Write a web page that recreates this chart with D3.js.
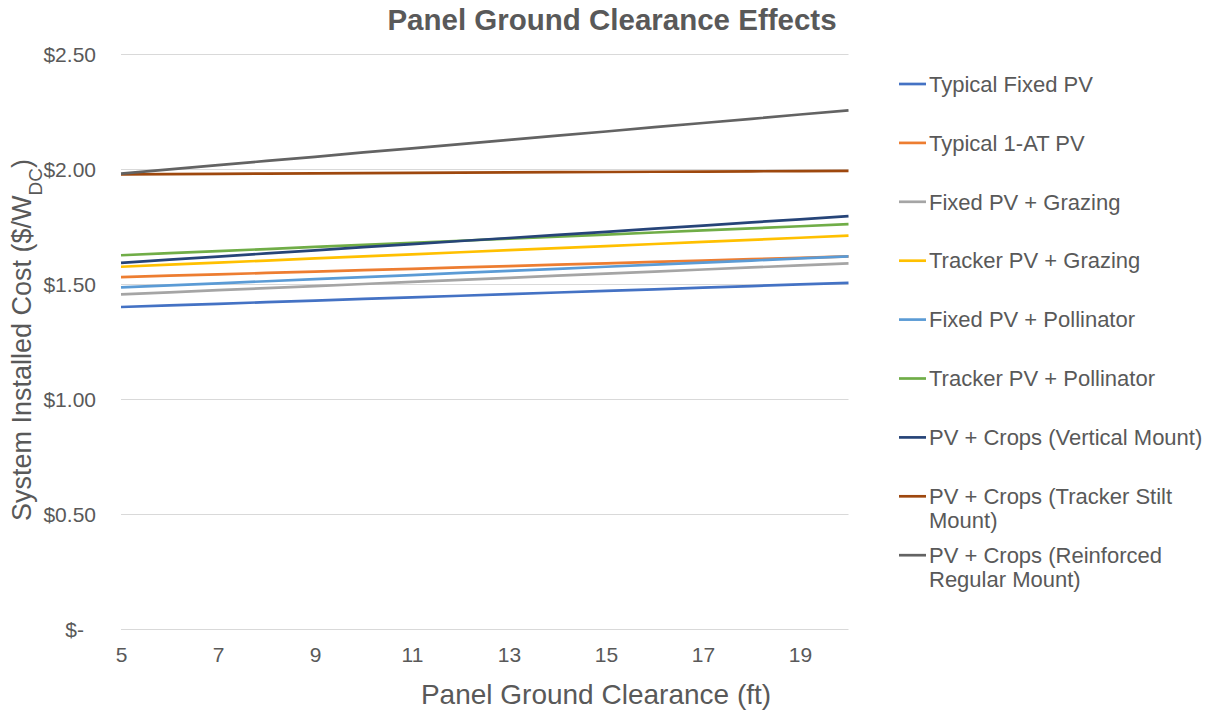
<!DOCTYPE html>
<html>
<head>
<meta charset="utf-8">
<script src="https://cdn.jsdelivr.net/npm/d3@7"></script>
<style>
  html, body { margin: 0; padding: 0; background: #fff; }
  svg { display: block; font-family: "Liberation Sans", Arial, sans-serif; }
</style>
</head>
<body>
<svg id="chart" width="1206" height="713"></svg>
<script>
// Ground clearance in feet (x axis)
const clearance = [5, 6, 7, 8, 9, 10, 11, 12, 13, 14, 15, 16, 17, 18, 19, 20];
const xTickLabels = [5, 7, 9, 11, 13, 15, 17, 19];
const yTickValues = [0, 0.5, 1.0, 1.5, 2.0, 2.5];

// Installed cost, $/W_DC, for each configuration
const typicalFixed = [1.400, 1.407, 1.414, 1.421, 1.428, 1.435, 1.442, 1.449, 1.456, 1.463, 1.470, 1.477, 1.484, 1.491, 1.498, 1.505];
const typical1AT = [1.530, 1.536, 1.542, 1.548, 1.554, 1.560, 1.566, 1.572, 1.578, 1.584, 1.590, 1.596, 1.602, 1.608, 1.614, 1.620];
const fixedGrazing = [1.455, 1.464, 1.473, 1.482, 1.491, 1.500, 1.509, 1.518, 1.527, 1.536, 1.545, 1.554, 1.563, 1.572, 1.581, 1.590];
const trackerGrazing = [1.575, 1.584, 1.593, 1.602, 1.611, 1.620, 1.629, 1.638, 1.647, 1.656, 1.665, 1.674, 1.683, 1.692, 1.701, 1.710];
const fixedPollinator = [1.485, 1.494, 1.503, 1.512, 1.521, 1.530, 1.539, 1.548, 1.557, 1.566, 1.575, 1.584, 1.593, 1.602, 1.611, 1.620];
const trackerPollinator = [1.625, 1.634, 1.643, 1.652, 1.661, 1.670, 1.679, 1.688, 1.697, 1.706, 1.715, 1.724, 1.733, 1.742, 1.751, 1.760];
const cropsVertical = [1.592, 1.606, 1.619, 1.633, 1.646, 1.660, 1.673, 1.687, 1.700, 1.714, 1.727, 1.741, 1.754, 1.768, 1.781, 1.795];
const cropsStilt = [1.977, 1.978, 1.979, 1.980, 1.981, 1.982, 1.983, 1.984, 1.985, 1.986, 1.987, 1.988, 1.989, 1.990, 1.991, 1.992];
const cropsReinforced = [1.980, 1.998, 2.017, 2.035, 2.053, 2.072, 2.090, 2.108, 2.127, 2.145, 2.163, 2.182, 2.200, 2.218, 2.237, 2.255];

// Legend entries, with the long names broken over two lines
const legendLines = [
  ["Typical Fixed PV"],
  ["Typical 1-AT PV"],
  ["Fixed PV + Grazing"],
  ["Tracker PV + Grazing"],
  ["Fixed PV + Pollinator"],
  ["Tracker PV + Pollinator"],
  ["PV + Crops (Vertical Mount)"],
  ["PV + Crops (Tracker Stilt", "Mount)"],
  ["PV + Crops (Reinforced", "Regular Mount)"]
];
const seriesValues = [typicalFixed, typical1AT, fixedGrazing, trackerGrazing,
  fixedPollinator, trackerPollinator, cropsVertical, cropsStilt, cropsReinforced];
const seriesColors = ["#4472C4", "#ED7D31", "#A5A5A5", "#FFC000", "#5B9BD5",
  "#70AD47", "#264478", "#9E480E", "#636363"];

const svg = d3.select("#chart");
const textColor = "#595959";
const fontFamily = "'Liberation Sans', Arial, sans-serif";

const x = d3.scaleLinear().domain([5, 20]).range([121, 848.5]);
const y = d3.scaleLinear().domain([0, 2.5]).range([629, 54]);

// Horizontal gridlines
svg.append("g")
  .selectAll("line")
  .data(yTickValues)
  .join("line")
  .attr("x1", x(5)).attr("x2", x(20))
  .attr("y1", d => Math.round(y(d)) + 0.5)
  .attr("y2", d => Math.round(y(d)) + 0.5)
  .attr("stroke", "#D9D9D9")
  .attr("stroke-width", 1);

// Y axis labels (accounting style: zero shown as "$-")
const yFmt = d => d === 0 ? "$-" : "$" + d.toFixed(2);
const yAxis = d3.axisLeft(y).tickValues(yTickValues).tickFormat(yFmt).tickSize(0).tickPadding(0);
const yg = svg.append("g").attr("transform", "translate(96,0)").call(yAxis);
yg.select(".domain").remove();
yg.selectAll("text")
  .attr("fill", textColor)
  .style("font-size", "21px")
  .style("font-family", fontFamily)
  .attr("dy", "0.35em");
yg.selectAll("text").filter(d => d === 0).attr("x", -12);

// X axis labels
const xAxis = d3.axisBottom(x).tickValues(xTickLabels).tickFormat(d3.format("d")).tickSize(0).tickPadding(0);
const xg = svg.append("g").attr("transform", "translate(0,655)").call(xAxis);
xg.select(".domain").remove();
xg.selectAll("text")
  .attr("fill", textColor)
  .style("font-size", "21px")
  .style("font-family", fontFamily)
  .attr("dy", "0.35em");

// Series lines
const line = d3.line()
  .x((d, i) => x(clearance[i]))
  .y(d => y(d));

svg.append("g")
  .selectAll("path")
  .data(seriesValues)
  .join("path")
  .attr("d", d => line(d))
  .attr("fill", "none")
  .attr("stroke", (d, i) => seriesColors[i])
  .attr("stroke-width", 2.7)
  .attr("stroke-linecap", "butt");

// Title
svg.append("text")
  .attr("x", 612).attr("y", 30)
  .attr("text-anchor", "middle")
  .attr("fill", textColor)
  .style("font-size", "29.5px")
  .style("font-weight", "bold")
  .text("Panel Ground Clearance Effects");

// Axis titles
svg.append("text")
  .attr("x", 596).attr("y", 704)
  .attr("text-anchor", "middle")
  .attr("fill", textColor)
  .style("font-size", "28px")
  .text("Panel Ground Clearance (ft)");

const yTitle = svg.append("text")
  .attr("transform", "translate(31,340) rotate(-90)")
  .attr("text-anchor", "middle")
  .attr("fill", textColor)
  .style("font-size", "27px");
yTitle.append("tspan").text("System Installed Cost ($/W");
yTitle.append("tspan").attr("baseline-shift", "sub").style("font-size", "19px").text("DC");
yTitle.append("tspan").text(")");

// Legend
const legend = svg.append("g");
const legendTop = 84, legendStep = 58.9;
legendLines.forEach((lines, i) => {
  const cy = legendTop + i * legendStep;
  legend.append("line")
    .attr("x1", 899).attr("x2", 926)
    .attr("y1", cy).attr("y2", cy)
    .attr("stroke", seriesColors[i])
    .attr("stroke-width", 2.7);
  const t = legend.append("text")
    .attr("x", 929).attr("y", cy)
    .attr("fill", textColor)
    .style("font-size", "22px");
  lines.forEach((ln, j) => {
    t.append("tspan").attr("x", 929).attr("dy", j === 0 ? "0.35em" : "24px").text(ln);
  });
});
</script>
</body>
</html>
